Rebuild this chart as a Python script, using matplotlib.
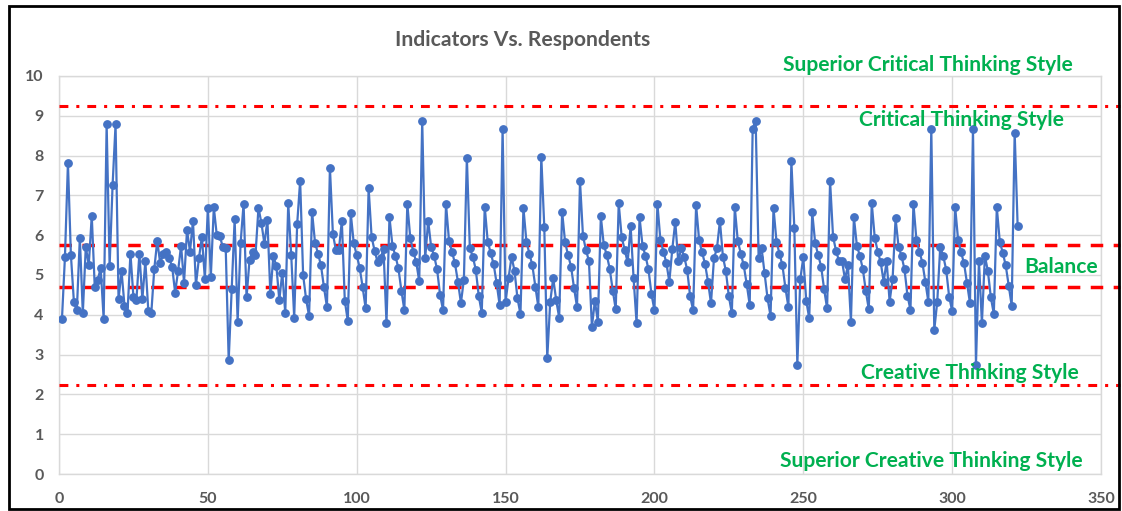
import matplotlib
matplotlib.use("Agg")
import matplotlib.pyplot as plt
from matplotlib.patches import Rectangle

# ---- data ----
indicator_values = [
    3.90, 5.46, 7.81, 5.50, 4.33, 4.12, 5.94, 4.04, 5.71, 5.25,
    6.49, 4.71, 4.87, 5.18, 3.90, 8.79, 5.23, 7.26, 8.79, 4.39,
    5.10, 4.23, 4.04, 5.54, 4.45, 4.37, 5.54, 4.39, 5.35, 4.10,
    4.04, 5.15, 5.86, 5.29, 5.54, 5.59, 5.42, 5.21, 4.56, 5.10,
    5.74, 4.81, 6.13, 5.59, 6.36, 4.75, 5.42, 5.96, 4.90, 6.69,
    4.96, 6.70, 6.00, 5.98, 5.71, 5.67, 2.86, 4.64, 6.40, 3.83,
    5.81, 6.79, 4.44, 5.38, 5.59, 5.50, 6.69, 6.30, 5.78, 6.38,
    4.52, 5.48, 5.23, 4.37, 5.06, 4.04, 6.80, 5.50, 3.93, 6.28,
    7.37, 5.00, 4.39, 3.97, 6.59, 5.81, 5.54, 5.24, 4.69, 4.20,
    7.70, 6.03, 5.63, 5.63, 6.36, 4.35, 3.85, 6.55, 5.80, 5.50,
    5.18, 4.69, 4.16, 7.18, 5.96, 5.61, 5.33, 5.42, 5.65, 3.79,
    6.45, 5.74, 5.48, 5.17, 4.61, 4.12, 6.79, 5.92, 5.59, 5.32,
    4.84, 8.88, 5.42, 6.36, 5.71, 5.48, 5.14, 4.50, 4.12, 6.78,
    5.86, 5.59, 5.29, 4.83, 4.30, 4.88, 7.95, 5.67, 5.46, 5.13,
    4.47, 4.05, 6.72, 5.84, 5.56, 5.27, 4.79, 4.25, 8.68, 4.33,
    4.92, 5.46, 5.11, 4.41, 4.02, 6.68, 5.84, 5.54, 5.24, 4.71,
    4.20, 7.97, 6.21, 2.91, 4.33, 4.92, 4.37, 3.93, 6.59, 5.82,
    5.50, 5.21, 4.67, 4.20, 7.36, 5.98, 5.63, 5.35, 3.70, 4.35,
    3.83, 6.47, 5.75, 5.50, 5.15, 4.61, 4.14, 6.80, 5.95, 5.63,
    5.32, 6.23, 4.92, 3.79, 6.45, 5.74, 5.48, 5.14, 4.52, 4.12,
    6.79, 5.88, 5.59, 5.31, 4.83, 5.65, 6.34, 5.34, 5.67, 5.46,
    5.13, 4.46, 4.12, 6.76, 5.88, 5.57, 5.28, 4.83, 4.29, 5.42,
    5.67, 6.36, 5.46, 5.10, 4.46, 4.04, 6.70, 5.85, 5.54, 5.24,
    4.77, 4.25, 8.68, 8.88, 5.42, 5.67, 5.04, 4.41, 3.97, 6.68,
    5.84, 5.54, 5.24, 4.67, 4.20, 7.86, 6.17, 2.75, 4.90, 5.44,
    4.35, 3.91, 6.58, 5.80, 5.50, 5.21, 4.64, 4.16, 7.36, 5.96,
    5.61, 5.35, 5.35, 4.90, 5.24, 3.83, 6.45, 5.74, 5.48, 5.15,
    4.60, 4.14, 6.80, 5.94, 5.59, 5.32, 4.83, 5.35, 4.33, 4.90,
    6.42, 5.71, 5.48, 5.14, 4.48, 4.12, 6.79, 5.88, 5.59, 5.31,
    4.83, 4.33, 8.68, 3.62, 4.33, 5.71, 5.48, 5.13, 4.45, 4.10,
    6.72, 5.88, 5.57, 5.29, 4.79, 4.29, 8.68, 2.75, 5.35, 3.79,
    5.48, 5.10, 4.44, 4.02, 6.70, 5.84, 5.56, 5.24, 4.73, 4.23,
    8.58, 6.23,
]
respondents = list(range(1, len(indicator_values) + 1))

dashdot_levels = [9.25, 2.23]
dashed_levels = [5.75, 4.70]

style_labels = ["Superior Critical Thinking Style", "Critical Thinking Style",
                "Balance", "Creative Thinking Style",
                "Superior Creative Thinking Style"]
style_label_x = [291.9, 303.0, 336.6, 306.0, 292.9]
style_label_y = [10.28, 8.89, 5.20, 2.54, 0.33]

x_ticks = [0, 50, 100, 150, 200, 250, 300, 350]
y_ticks = list(range(0, 11))
title = "Indicators Vs. Respondents"

# ---- figure ----
W, H = 1122, 511
fig = plt.figure(figsize=(W / 100, H / 100), dpi=100)
fig.patch.set_facecolor("white")

ax_l, ax_r, ax_t, ax_b = 59, 1101, 76, 474
ax = fig.add_axes([ax_l / W, 1 - ax_b / H, (ax_r - ax_l) / W, (ax_b - ax_t) / H])

FONT = "Lato"
GRAY = "#595959"
GREEN = "#00B050"
BLUE = "#4472C4"

ax.set_xlim(0, 350)
ax.set_ylim(0, 10)
ax.set_xticks(x_ticks)
ax.set_yticks(y_ticks)
ax.grid(True, color="#D9D9D9", lw=1.0, zorder=0)
ax.set_axisbelow(True)
for s in ax.spines.values():
    s.set_color("#D9D9D9")
    s.set_linewidth(1.0)
ax.tick_params(length=0)
ax.tick_params(axis="y", pad=11)
ax.tick_params(axis="x", pad=13)
for lab in ax.get_xticklabels() + ax.get_yticklabels():
    lab.set_fontfamily(FONT)
    lab.set_fontweight("bold")
    lab.set_fontsize(11.5)
    lab.set_color(GRAY)

x_end = (1120 - ax_l) / ((ax_r - ax_l) / 350)
for lv in dashdot_levels:
    ln, = ax.plot([0, x_end], [lv, lv], color="#FF0000", lw=2.2, clip_on=False, zorder=3)
    ln.set_dashes([2.9, 2.6, 1.0, 2.6])
for lv in dashed_levels:
    ln, = ax.plot([0, x_end], [lv, lv], color="#FF0000", lw=2.5, clip_on=False, zorder=3)
    ln.set_dashes([3.6, 3.0])

ax.plot(respondents, indicator_values, color=BLUE, lw=1.6, marker="o",
        markersize=5.3, markerfacecolor=BLUE, markeredgecolor=BLUE, zorder=4)

for t, x, y in zip(style_labels, style_label_x, style_label_y):
    ax.text(x, y, t, color=GREEN, fontsize=15.1, fontweight="bold", family=FONT,
            ha="center", va="center", clip_on=False, zorder=5)

fig.text(523 / W, 1 - 40 / H, title, color=GRAY, fontsize=15.2, fontweight="bold",
         family=FONT, ha="center", va="center")

# outer frame
fig.patches.append(Rectangle((9 / W, 1 - 509 / H), (1119 - 9) / W, (509 - 6) / H,
                             transform=fig.transFigure, fill=False,
                             edgecolor="black", lw=2.0))

fig.savefig("out.png", dpi=100)
